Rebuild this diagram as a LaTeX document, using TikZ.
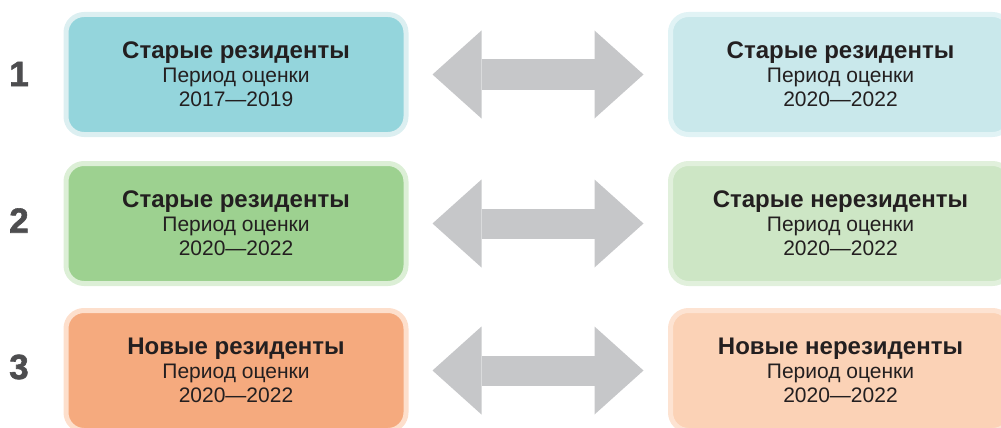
\documentclass[tikz,border=0pt]{standalone}
\usepackage{fontspec}
\setmainfont{Liberation Sans}
\newfontfamily\numfont{Liberation Sans}[BoldFeatures={FakeBold=1.6}]
\usepackage{tikz}
\usetikzlibrary{arrows.meta}

\definecolor{txt}{HTML}{231F20}
\definecolor{numgray}{HTML}{4D4D4F}
\definecolor{arrgray}{HTML}{C6C7C9}
\definecolor{tealL}{HTML}{94D5DC}
\definecolor{tealLb}{HTML}{DCEFF1}
\definecolor{tealR}{HTML}{C9E8EB}
\definecolor{tealRb}{HTML}{E1F3F5}
\definecolor{greenL}{HTML}{9DD190}
\definecolor{greenLb}{HTML}{DCEFD6}
\definecolor{greenR}{HTML}{CDE6C5}
\definecolor{greenRb}{HTML}{E1F0DC}
\definecolor{orangeL}{HTML}{F5AA7E}
\definecolor{orangeLb}{HTML}{FDDFCC}
\definecolor{orangeR}{HTML}{FBD2B6}
\definecolor{orangeRb}{HTML}{FDE3D2}

\newcommand{\hd}[1]{\rule{0pt}{17pt}{\fontsize{24}{24}\selectfont\bfseries #1}}

\begin{document}
\begin{tikzpicture}[x=1pt, y=-1pt,
  box/.style={rectangle, rounded corners=18pt, line width=5pt, minimum width=340pt, minimum height=120pt, inner sep=0pt, align=center, text=txt, font=\fontsize{21}{24}\selectfont},
  num/.style={text=numgray, font=\fontsize{35}{35}\selectfont\numfont\bfseries},
  link/.style={draw=arrgray, line width=30pt, {Triangle[width=88pt,length=49pt,line width=0pt]}-{Triangle[width=88pt,length=49pt,line width=0pt]}, shorten <=24pt, shorten >=24.5pt}]
\useasboundingbox (0,0) rectangle (1001,428);

\node[num] (n1) at (19,74) {1};
\node[num] (n2) at (19,220.5) {2};
\node[num] (n3) at (19,367) {3};

\node[box, fill=tealL, draw=tealLb] (L1) at (236,74.5) {\hd{Старые резиденты}\\Период оценки\\2017—2019};
\node[box, fill=tealR, draw=tealRb] (R1) at (840.5,74.5) {\hd{Старые резиденты}\\Период оценки\\2020—2022};
\node[box, fill=greenL, draw=greenLb] (L2) at (236,223.5) {\hd{Старые резиденты}\\Период оценки\\2020—2022};
\node[box, fill=greenR, draw=greenRb] (R2) at (840.5,223.5) {\hd{Старые нерезиденты}\\Период оценки\\2020—2022};
\node[box, fill=orangeL, draw=orangeLb] (L3) at (236,370.5) {\hd{Новые резиденты}\\Период оценки\\2020—2022};
\node[box, fill=orangeR, draw=orangeRb] (R3) at (840.5,370.5) {\hd{Новые нерезиденты}\\Период оценки\\2020—2022};

\draw[link] (L1) -- (R1);
\draw[link] (L2) -- (R2);
\draw[link] (L3) -- (R3);
\end{tikzpicture}
\end{document}
